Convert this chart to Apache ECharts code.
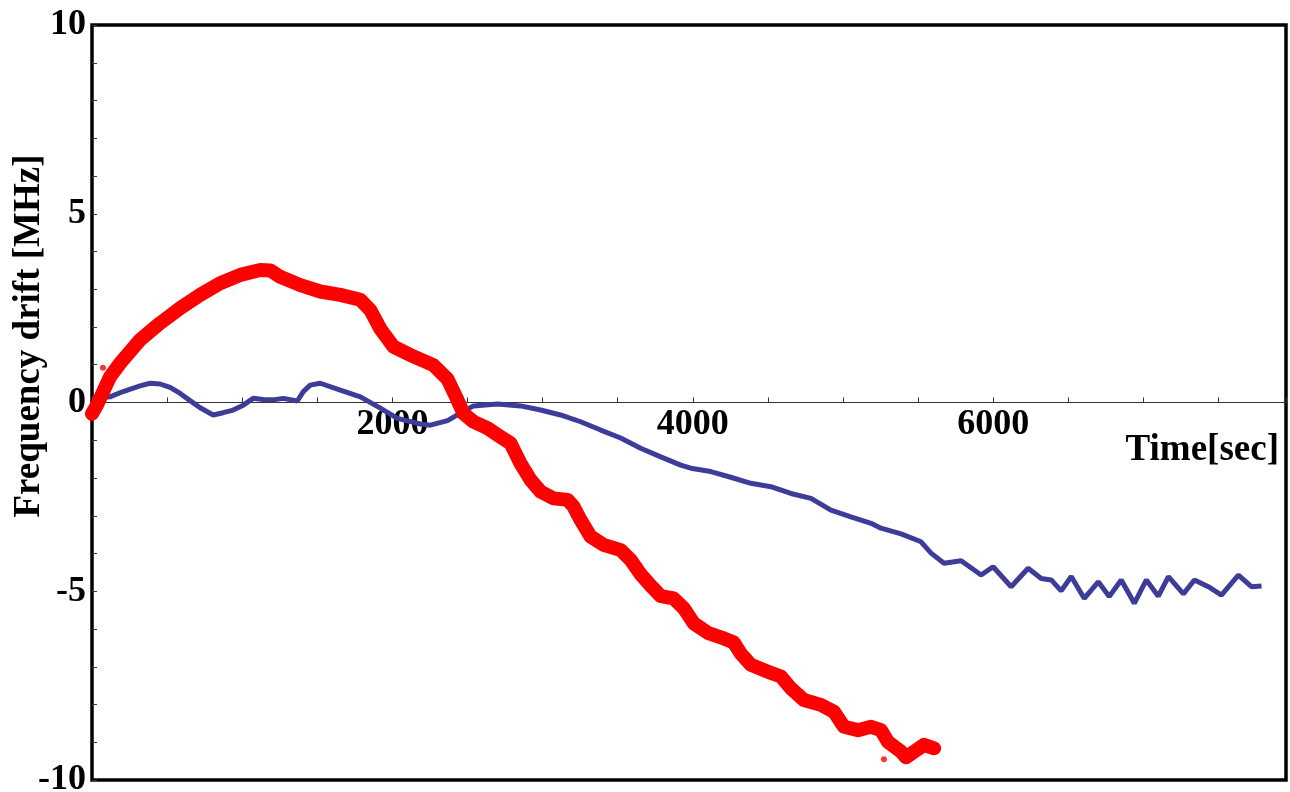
<!DOCTYPE html>
<html>
<head>
<meta charset="utf-8">
<script src="https://cdn.jsdelivr.net/npm/echarts@6/dist/echarts.min.js"></script>
<style>html,body{margin:0;padding:0;background:#fff}#c{width:1290px;height:792px}</style>
</head>
<body>
<div id="c"></div>
<script>
// Red series (time in sec, drift in MHz)
const redT = [0,33,120,187,320,453,587,720,853,987,1120,1187,1253,1387,1520,1653,1787,1853,1920,2007,2140,2273,2367,2433,2473,2540,2633,2720,2787,2853,2920,2987,3073,3167,3207,3253,3320,3407,3520,3587,3653,3720,3787,3873,3940,4007,4100,4187,4273,4320,4387,4500,4587,4653,4740,4853,4940,5007,5100,5187,5253,5300,5387,5420,5473,5540,5607];
const redV = [-0.3,-0.07,0.68,1.04,1.66,2.10,2.50,2.85,3.16,3.38,3.51,3.50,3.33,3.11,2.94,2.85,2.72,2.45,1.95,1.48,1.22,0.99,0.62,0.07,-0.29,-0.51,-0.68,-0.91,-1.08,-1.61,-2.05,-2.36,-2.54,-2.58,-2.76,-3.11,-3.55,-3.77,-3.91,-4.17,-4.55,-4.85,-5.13,-5.19,-5.45,-5.85,-6.10,-6.22,-6.36,-6.65,-6.95,-7.13,-7.26,-7.57,-7.88,-8.01,-8.19,-8.59,-8.68,-8.59,-8.68,-8.99,-9.25,-9.40,-9.25,-9.07,-9.16];
// a few stray red points
const redOutT = [73,120,5273];
const redOutV = [0.92,0.84,-9.45];
// Blue series
const blueT = [0,120,207,320,387,453,520,587,653,720,807,873,940,1007,1073,1140,1207,1273,1367,1407,1453,1520,1653,1787,1920,2033,2187,2253,2367,2453,2540,2700,2853,2987,3120,3253,3387,3520,3653,3787,3920,3987,4120,4253,4387,4520,4653,4787,4920,5053,5187,5253,5387,5520,5587,5673,5787,5920,6000,6120,6233,6320,6387,6453,6520,6607,6700,6773,6853,6940,7020,7100,7167,7267,7340,7433,7520,7633,7720,7787];
const blueV = [0.10,0.15,0.29,0.44,0.51,0.49,0.40,0.24,0.05,-0.14,-0.33,-0.27,-0.20,-0.07,0.11,0.08,0.07,0.11,0.04,0.29,0.46,0.51,0.33,0.15,-0.15,-0.42,-0.57,-0.60,-0.48,-0.28,-0.09,-0.04,-0.09,-0.20,-0.33,-0.51,-0.73,-0.94,-1.21,-1.44,-1.66,-1.74,-1.83,-1.98,-2.14,-2.23,-2.41,-2.54,-2.85,-3.03,-3.20,-3.33,-3.48,-3.69,-3.99,-4.26,-4.19,-4.57,-4.35,-4.88,-4.39,-4.66,-4.70,-4.99,-4.61,-5.19,-4.75,-5.14,-4.70,-5.32,-4.70,-5.13,-4.61,-5.07,-4.70,-4.88,-5.10,-4.57,-4.88,-4.86];
const xLabels = [2000,4000,6000];
const yLabels = [-10,-5,0,5,10];
const xName = 'Time[sec]';
const yName = 'Frequency drift [MHz]';

const zip = (a,b) => a.map((v,i) => [v,b[i]]);
const FONT = '"Liberation Serif", "Times New Roman", serif';
const GRID = {left: 92, right: 4, top: 25, bottom: 12};
const plotH = 792 - GRID.top - GRID.bottom;
// offset that puts the bottom x axis at y = 0 of the -10..10 scale
const zeroOffset = -plotH / 2;

const chart = echarts.init(document.getElementById('c'), null, {renderer:'canvas'});
chart.setOption({
  animation: false,
  backgroundColor: '#fff',
  grid: Object.assign({show: true, borderColor: '#000', borderWidth: 3.5, containLabel: false, outerBoundsMode: 'none'}, GRID),
  xAxis: {
    type: 'value', min: 0, max: 7950, interval: 500, position: 'bottom', offset: zeroOffset,
    axisLine: {onZero: false, lineStyle: {color: '#333', width: 1.2}},
    axisTick: {inside: true, length: 5, lineStyle: {color: '#333'}},
    splitLine: {show: false},
    axisLabel: {
      margin: 4,
      color: '#000', fontFamily: FONT, fontWeight: 'bold', fontSize: 36,
      formatter: v => xLabels.includes(v) ? String(v) : ''
    }
  },
  yAxis: {
    type: 'value', min: -10, max: 10, interval: 1,
    axisLine: {show: false},
    axisTick: {inside: true, length: 5, lineStyle: {color: '#333'}},
    splitLine: {show: false},
    axisLabel: {
      margin: 6,
      color: '#000', fontFamily: FONT, fontWeight: 'bold', fontSize: 36,
      formatter: v => yLabels.includes(v) ? String(v) : ''
    }
  },
  graphic: [
    {type: 'text', x: 1279, y: 450, style: {text: xName, fill: '#000', font: 'bold 37px ' + FONT, textAlign: 'right', textVerticalAlign: 'middle'}},
    {type: 'text', x: 29, y: 336, rotation: Math.PI/2, style: {text: yName, fill: '#000', font: 'bold 37px ' + FONT, textAlign: 'center', textVerticalAlign: 'middle'}}
  ],
  series: [
    {type: 'line', data: zip(blueT, blueV), showSymbol: false, lineStyle: {color: '#3d3d99', width: 5}, itemStyle: {color: '#3d3d99'}, z: 2},
    {type: 'line', data: zip(redT, redV), showSymbol: false, lineStyle: {color: '#ff0000', width: 14, join: 'round', cap: 'round'}, itemStyle: {color: '#ff0000'}, z: 3},
    {type: 'scatter', data: zip(redOutT, redOutV), symbolSize: 6, itemStyle: {color: '#ff0000'}, z: 3}
  ]
});
</script>
</body>
</html>
